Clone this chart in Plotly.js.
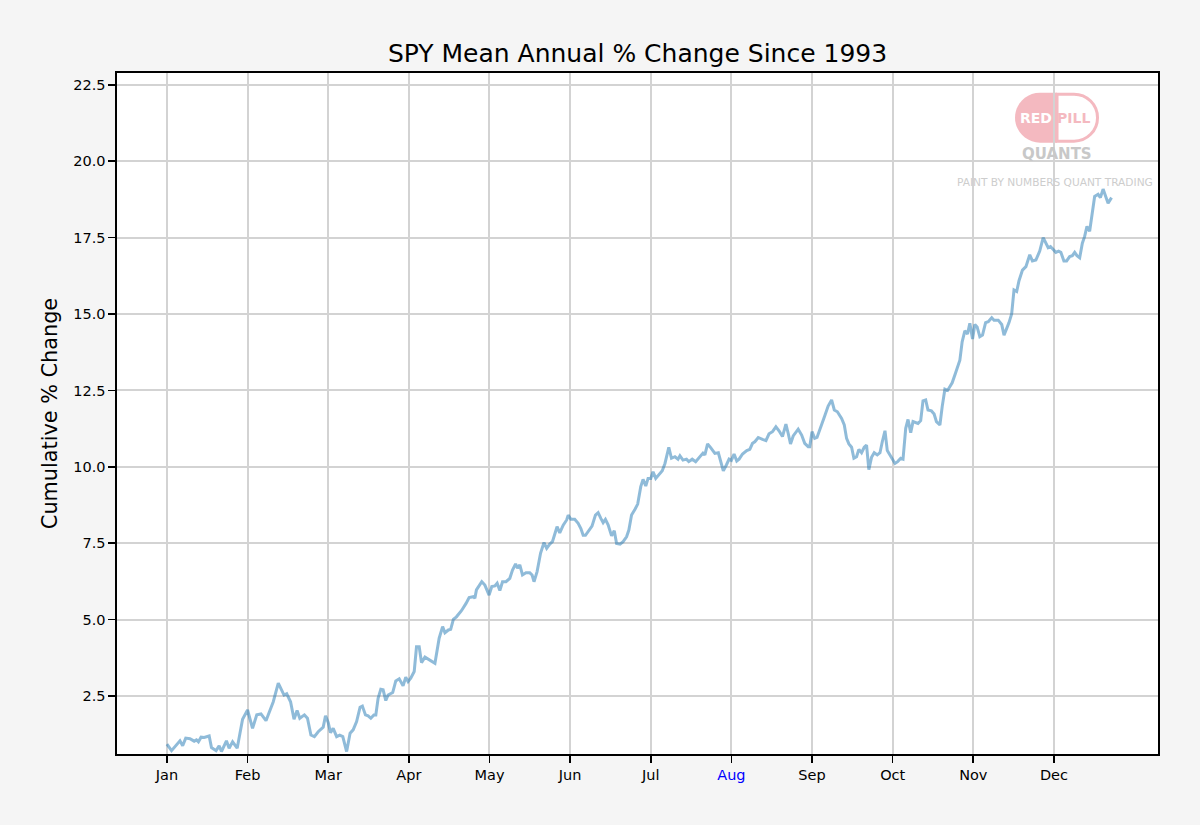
<!DOCTYPE html>
<html>
<head>
<meta charset="utf-8">
<script src="https://cdn.plot.ly/plotly-3.0.1.min.js"></script>
<style>
  html, body { margin: 0; padding: 0; background: #f5f5f5; }
  #chart { width: 1200px; height: 825px; }
</style>
</head>
<body>
<div id="chart"></div>
<script>
// trading day of the year (x) and mean cumulative % change (y)
const tradingDay = [
  0.0, 1.2, 3.4, 4.1, 4.9, 6.0, 7.1, 7.7, 8.2, 8.9, 9.7, 10.3, 11.0, 11.6, 12.8, 13.6, 14.2, 15.5, 16.2, 17.1,
  18.3, 19.7, 21.0, 22.3, 23.4, 24.5, 25.8, 27.7, 29.0, 30.5, 31.2, 32.2, 33.1, 33.9,
  34.6, 35.8, 36.6, 37.5, 38.4, 39.4, 40.7, 41.3, 42.0, 42.6, 43.3, 44.2, 45.0, 45.8, 46.8, 47.7,
  48.5, 49.4, 50.3, 50.9, 51.7, 52.4, 53.1, 53.9, 54.4, 55.0, 55.7, 56.3, 57.0, 57.6, 58.8, 59.6,
  60.5, 61.5, 62.2, 62.8, 63.5, 64.4, 65.0, 65.7, 66.3, 67.2, 68.0, 69.2, 69.8,
  70.9, 71.8, 72.4, 73.3, 73.9, 74.6, 75.4, 76.7, 77.9, 78.7, 79.8, 80.2, 80.6, 82.0, 82.8, 83.9,
  84.6, 85.4, 86.0, 86.7, 87.4, 88.3, 89.3, 90.0, 90.8, 91.3, 91.9, 92.6, 93.5, 94.5, 95.1, 95.6,
  96.4, 97.3, 98.2, 98.9, 99.7, 100.4, 101.6, 102.3, 103.2, 104.1, 104.5,
  105.2, 106.2, 107.1, 107.8, 108.4, 109.0, 109.7, 110.7, 111.6, 112.3, 113.0, 113.6, 114.2, 114.9,
  115.8, 116.5, 117.1, 118.0, 118.8, 119.7, 120.3, 121.0, 121.9, 122.6, 123.4, 124.0, 124.7, 125.3,
  126.0, 126.6, 127.3, 128.1, 129.0, 129.7, 130.7, 131.4, 132.3, 133.1, 133.6, 134.4, 135.3, 135.9,
  136.8, 137.7, 138.5, 139.6,
  140.1, 140.8, 141.7, 142.7, 143.6, 144.2, 144.9, 145.7, 146.4, 147.0, 147.7, 148.4, 149.0, 149.9,
  151.0, 151.8, 152.5, 153.1, 154.0, 155.1, 156.0, 156.8, 157.7, 158.6, 159.4, 160.3, 161.2, 161.8,
  162.4, 163.1, 164.4, 165.3, 166.1, 167.0, 167.4, 168.0, 168.7, 169.3, 170.2, 171.3, 172.2, 173.1,
  173.8, 174.6,
  175.7, 176.4, 177.0, 177.6, 178.3, 178.9, 179.6, 180.2, 180.9, 181.6, 182.2, 182.8, 183.5, 184.2,
  185.0, 185.7, 186.3, 187.0, 187.6, 188.3, 188.9, 189.6, 190.3, 191.1, 191.7, 192.4, 193.0, 193.7,
  194.3, 195.0, 195.6, 196.3, 196.9, 197.6, 198.2, 199.1, 199.8, 200.4, 201.3, 201.9, 202.6, 203.3,
  203.9, 204.5, 205.4, 206.5, 207.1, 207.8, 208.5, 209.1,
  209.8, 210.4, 211.0, 211.7, 212.4, 213.2, 213.9, 214.8, 215.4, 216.5, 217.4, 218.0, 218.7, 219.3,
  220.0, 220.6, 221.3, 221.9, 222.8, 223.7, 224.7, 225.4, 226.3, 227.3, 228.2, 228.9, 229.5, 230.1,
  230.8, 231.5, 232.2, 232.8, 233.6, 234.3, 235.1, 235.8, 236.4, 237.0, 237.7, 238.4, 239.0, 239.6,
  240.3, 241.6, 242.5, 243.1, 243.8, 244.5, 245.1, 246.0,
];
const cumulativeChange = [
  0.92, 0.71, 1.03, 0.87, 1.12, 1.10, 1.02, 1.06, 1.00, 1.15, 1.14, 1.17, 1.19, 0.81, 0.71, 0.87, 0.68, 1.03, 0.79, 1.00,
  0.79, 1.74, 2.04, 1.44, 1.88, 1.91, 1.69, 2.31, 2.92, 2.53, 2.57, 2.31, 1.74, 2.02,
  1.77, 1.88, 1.77, 1.22, 1.17, 1.33, 1.48, 1.85, 1.63, 1.30, 1.44, 1.17, 1.22, 1.17, 0.68, 1.28,
  1.39, 1.66, 2.13, 2.17, 1.88, 1.85, 1.77, 1.88, 1.88, 2.42, 2.72, 2.70, 2.35, 2.53, 2.61, 2.99,
  3.06, 2.83, 3.11, 2.97, 3.08, 3.30, 4.11, 4.11, 3.59, 3.77, 3.70, 3.62, 3.57,
  4.39, 4.77, 4.57, 4.66, 4.68, 5.01, 5.09, 5.29, 5.53, 5.72, 5.75, 5.70, 5.97, 6.24, 6.13, 5.80,
  6.08, 6.10, 6.19, 5.95, 6.24, 6.24, 6.35, 6.62, 6.82, 6.68, 6.79, 6.46, 6.53, 6.53, 6.46, 6.24,
  6.57, 7.17, 7.52, 7.33, 7.47, 7.55, 8.04, 7.84, 8.09, 8.26, 8.42,
  8.28, 8.28, 8.15, 7.98, 7.76, 7.76, 7.87, 8.06, 8.42, 8.50, 8.31, 8.17, 8.28, 8.10,
  7.74, 7.91, 7.49, 7.47, 7.55, 7.71, 7.93, 8.42, 8.61, 8.78, 9.35, 9.59, 9.37, 9.62,
  9.62, 9.84, 9.62, 9.73, 9.87, 10.11, 10.64, 10.28, 10.33, 10.25, 10.36, 10.22, 10.25, 10.17,
  10.25, 10.17, 10.28, 10.45,
  10.39, 10.75, 10.61, 10.44, 10.46, 10.22, 9.87, 10.06, 10.25, 10.21, 10.42, 10.19, 10.25, 10.42,
  10.53, 10.57, 10.77, 10.82, 10.96, 10.90, 10.86, 11.08, 11.15, 11.31, 11.18, 10.99, 11.40, 11.09,
  10.75, 11.01, 11.23, 11.04, 10.77, 10.66, 10.66, 11.15, 10.93, 10.96, 11.31, 11.66, 11.99, 12.19,
  11.86, 11.80,
  11.58, 11.37, 10.93, 10.75, 10.64, 10.28, 10.33, 10.57, 10.46, 10.64, 10.71, 9.91, 10.31, 10.46,
  10.39, 10.46, 10.82, 11.18, 10.53, 10.39, 10.25, 10.11, 10.17, 10.28, 10.25, 11.26, 11.55, 11.12,
  11.48, 11.45, 11.42, 11.51, 12.16, 12.19, 11.86, 11.83, 11.73, 11.48, 11.37, 11.97, 12.54, 12.50,
  12.64, 12.75, 13.08, 13.49, 14.09, 14.45, 14.35, 14.70,
  14.18, 14.66, 14.58, 14.26, 14.31, 14.72, 14.75, 14.88, 14.80, 14.80, 14.66, 14.31, 14.53, 14.72,
  15.01, 15.79, 15.74, 16.09, 16.44, 16.55, 16.94, 16.74, 16.77, 17.06, 17.50, 17.32, 17.17, 17.21,
  17.13, 17.02, 17.06, 17.02, 16.74, 16.74, 16.88, 16.91, 17.02, 16.91, 16.84, 17.32, 17.54, 17.87,
  17.71, 18.85, 18.92, 18.81, 19.09, 18.85, 18.63, 18.81,
];

const monthTickDays = [0, 21, 42, 63, 84, 105, 126, 147, 168, 189, 210, 231];
const monthLabels = ["Jan", "Feb", "Mar", "Apr", "May", "Jun", "Jul", "Aug", "Sep", "Oct", "Nov", "Dec"];
const highlightMonth = "Aug";

const FONT = "DejaVu Sans, Liberation Sans, sans-serif";
const PINK = "#f4b9c0";

const trace = {
  type: "scatter",
  mode: "lines",
  x: tradingDay,
  y: cumulativeChange,
  line: { color: "rgba(31, 119, 180, 0.5)", width: 3 },
  hoverinfo: "skip",
};

const tickText = monthLabels.map(m =>
  m === highlightMonth ? `<span style="color:#0000ff">${m}</span>` : m,
);

// watermark pill, drawn in pixels around an anchor in paper space
const pillAnchor = { xref: "paper", yref: "paper", xsizemode: "pixel", ysizemode: "pixel", xanchor: 0.903, yanchor: 0.9344, layer: "below" };
const mark = { xref: "paper", yref: "paper", xanchor: "center", yanchor: "middle", showarrow: false };

const layout = {
  width: 1200,
  height: 825,
  paper_bgcolor: "#f5f5f5",
  plot_bgcolor: "#ffffff",
  margin: { l: 117, r: 42, t: 73, b: 71 },
  showlegend: false,
  font: { family: FONT, color: "#000000" },
  title: {
    text: "SPY Mean Annual % Change Since 1993",
    font: { family: FONT, size: 25, color: "#000000" },
    x: 0.5,
    xref: "paper",
    y: 1 - 53 / 825,
    yref: "container",
    yanchor: "middle",
  },
  xaxis: {
    range: [-13.0, 258.1],
    tickmode: "array",
    tickvals: monthTickDays,
    ticktext: tickText,
    tickfont: { family: FONT, size: 14.5, color: "#000000" },
    ticks: "outside",
    ticklen: 7,
    tickwidth: 1.6,
    tickcolor: "#000000",
    showgrid: true,
    gridcolor: "#d3d3d3",
    gridwidth: 2,
    zeroline: false,
    showline: true,
    mirror: true,
    linecolor: "#000000",
    linewidth: 1.6,
  },
  yaxis: {
    range: [0.6, 22.89],
    tick0: 0,
    dtick: 2.5,
    tickformat: ".1f",
    tickfont: { family: FONT, size: 14.5, color: "#000000" },
    ticks: "outside",
    ticklen: 7,
    tickwidth: 1.6,
    tickcolor: "#000000",
    showgrid: true,
    gridcolor: "#d3d3d3",
    gridwidth: 2,
    zeroline: false,
    showline: true,
    mirror: true,
    linecolor: "#000000",
    linewidth: 1.6,
    title: {
      text: "Cumulative % Change",
      font: { family: FONT, size: 20.8, color: "#000000" },
      standoff: 10,
    },
  },
  shapes: [
    {
      ...pillAnchor,
      type: "path",
      path: "M 0,25 L -17,25 C -30.8,25 -42,13.8 -42,0 C -42,-13.8 -30.8,-25 -17,-25 L 0,-25 Z",
      fillcolor: PINK,
      line: { width: 0 },
    },
    {
      ...pillAnchor,
      type: "path",
      path: "M 0,23.5 L 17,23.5 C 30,23.5 40.5,13 40.5,0 C 40.5,-13 30,-23.5 17,-23.5 L 0,-23.5 Z",
      fillcolor: "#ffffff",
      line: { color: PINK, width: 3 },
    },
  ],
  annotations: [
    { ...mark, x: 0.8828, y: 0.934, text: "<b>RED</b>", font: { family: FONT, size: 14, color: "#ffffff" } },
    { ...mark, x: 0.9185, y: 0.934, text: "<b>PILL</b>", font: { family: FONT, size: 14, color: PINK } },
    { ...mark, x: 0.9027, y: 0.881, text: "<b>QUANTS</b>", font: { family: FONT, size: 15, color: "#c8c8c8" } },
    { ...mark, x: 0.901, y: 0.8395, text: "PAINT BY NUMBERS QUANT TRADING", font: { family: FONT, size: 10.6, color: "#cdcdcd" } },
  ],
};

Plotly.newPlot("chart", [trace], layout, { displayModeBar: false, staticPlot: true });
</script>
</body>
</html>
